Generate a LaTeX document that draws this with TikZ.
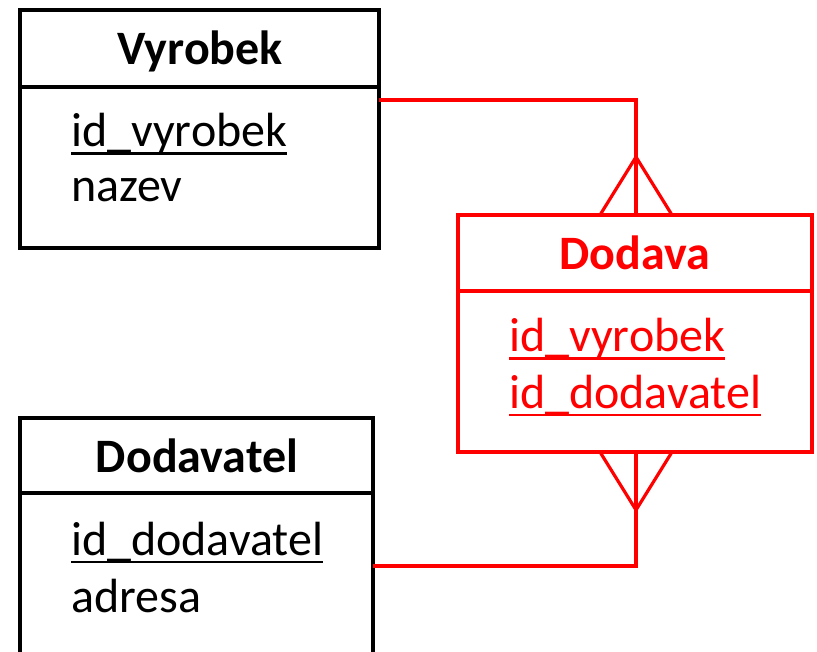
\documentclass[tikz,border=0pt]{standalone}
\usepackage{fontspec}
\setmainfont{Carlito}
\newcommand\keyattr[1]{\setbox0\hbox{#1}\rlap{\rule[-8pt]{\wd0}{2.5pt}}\box0}
\tikzset{
  entitybox/.style={draw, line width=4pt, rectangle, inner sep=0pt, outer sep=0pt},
  title/.style={anchor=base, inner sep=0pt, font=\fontsize{48}{57}\selectfont\bfseries},
  attr/.style={anchor=base west, inner sep=0pt, font=\fontsize{48}{57}\selectfont},
  rel/.style={draw=red, line width=3.2pt},
  divider/.style={line width=4pt},
}
\begin{document}
\begin{tikzpicture}[x=1pt, y=-1pt]
\useasboundingbox (0,0) rectangle (817,652);
\clip (0,0) rectangle (817,652);

% entity boxes
\node[entitybox, minimum width=359pt, minimum height=238pt] (vyr) at (199.5,129) {};
\node[entitybox, draw=red, line width=4.5pt, minimum width=354pt, minimum height=237pt] (dod) at (635,333.5) {};
\node[entitybox, minimum width=353pt, minimum height=300pt] (dav) at (196.5,568) {};

% header dividers
\coordinate (s1) at (0,87);
\coordinate (s2) at (0,291);
\coordinate (s3) at (0,493);
\draw[divider] (vyr.west |- s1) -- (vyr.east |- s1);
\draw[divider, red, line width=4.5pt] (dod.west |- s2) -- (dod.east |- s2);
\draw[divider] (dav.west |- s3) -- (dav.east |- s3);

% titles
\node[title] (tvyr) at (200,65) {Vyrobek};
\node[title, text=red] (tdod) at (635,270) {Dodava};
\node[title] (tdav) at (197,472) {Dodavatel};

% attributes
\node[attr] (a1) at (71,147) {\keyattr{id\_vyrobek}};
\node[attr] (a2) at (71,202) {nazev};
\node[attr, text=red] (a3) at (509,352) {\color{red}\keyattr{id\_vyrobek}};
\node[attr, text=red] (a4) at (509,408) {\color{red}\keyattr{id\_dodavatel}};
\node[attr] (a5) at (71,555) {\keyattr{id\_dodavatel}};
\node[attr] (a6) at (71,612) {adresa};

% relationship Vyrobek -- Dodava (many side at Dodava)
\coordinate (j1) at (636,100);
\coordinate (c1) at (636,157);
\coordinate (f1l) at (600,0);
\coordinate (f1r) at (672,0);
\draw[rel] (vyr.east |- j1) -- (j1) -- (dod.north -| j1);
\draw[rel] (dod.north -| f1l) -- (c1) -- (dod.north -| f1r);

% relationship Dodavatel -- Dodava (many side at Dodava)
\coordinate (j2) at (636,566);
\coordinate (c2) at (636,510);
\draw[rel] (dav.east |- j2) -- (j2) -- (dod.south -| j2);
\draw[rel] (dod.south -| f1l) -- (c2) -- (dod.south -| f1r);
\end{tikzpicture}
\end{document}
